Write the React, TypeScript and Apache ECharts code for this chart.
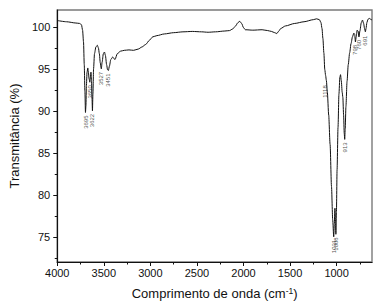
import React, { useEffect, useRef } from "react";
import * as echarts from "echarts";

const wavenumbers = [
  4000, 3900, 3800, 3760, 3740, 3728, 3718, 3710, 3703, 3697, 3692, 3687, 3680, 3672, 3665, 3658, 3650,
  3644, 3638, 3632, 3627, 3622, 3617, 3610, 3600, 3585, 3570, 3558, 3548, 3538, 3527, 3518, 3505, 3493,
  3483, 3470, 3460, 3451, 3440, 3425, 3405, 3380, 3355, 3320, 3280, 3230, 3180, 3130, 3090, 3050, 3010,
  2975, 2930, 2850, 2750, 2650, 2550, 2450, 2380, 2300, 2200, 2150, 2115, 2085, 2060, 2040, 2020, 2000,
  1980, 1900, 1800, 1740, 1700, 1665, 1642, 1620, 1600, 1550, 1450, 1350, 1250, 1215, 1185, 1168, 1157,
  1147, 1137, 1127, 1118, 1110, 1100, 1085, 1070, 1055, 1042, 1031, 1025, 1018, 1012, 1008, 1002, 995,
  985, 975, 965, 958, 950, 940, 933, 925, 918, 913, 908, 900, 888, 875, 860, 845, 830, 815, 806, 798,
  790, 780, 770, 760, 750, 735, 722, 710, 700, 691, 684, 675, 663, 648, 635, 620,
];

const transmittance = [
  100.75, 100.6, 100.45, 100.4, 100.25, 99.6, 98.2, 95.5, 92.3, 89.8, 90.6, 93.0, 94.6, 95.1, 94.5, 93.8, 93.4,
  94.0, 94.6, 93.6, 91.6, 90.0, 92.0, 95.0, 96.8, 97.6, 97.8, 97.5, 96.8, 95.7, 95.0, 95.8, 96.8, 97.0,
  96.6, 95.5, 94.9, 94.8, 95.3, 96.1, 96.4, 96.1, 96.8, 97.1, 97.2, 97.25, 97.2, 97.35, 97.6, 97.9, 98.4,
  98.8, 98.95, 99.15, 99.3, 99.4, 99.45, 99.4, 99.35, 99.4, 99.5, 99.55, 99.75, 100.1, 100.5, 100.65, 100.4, 99.9,
  99.65, 99.6, 99.65, 99.55, 99.45, 99.3, 99.2, 99.5, 99.8, 100.1, 100.4, 100.6, 100.85, 100.95, 100.85, 100.5, 99.8,
  98.6, 96.9, 94.9, 94.2, 93.6, 92.3, 89.5, 86.0, 81.0, 77.0, 75.0, 76.5, 78.4, 76.8, 75.3, 78.0, 83.0,
  88.0, 92.0, 94.0, 94.3, 93.6, 92.2, 91.6, 89.5, 87.3, 86.6, 87.8, 90.5, 93.5, 95.5, 96.9, 98.0, 98.8, 99.25, 99.1, 98.2,
  98.8, 99.6, 99.5, 98.8, 99.5, 100.5, 100.8, 100.4, 99.8, 99.4, 99.8, 100.5, 100.9, 101.0, 100.9, 100.8,
];

const peakLabels = ["3695", "3650", "3622", "3527", "3451", "1118", "1031", "1008", "913", "798", "760", "691"];
const peakWavenumbers = [3695, 3650, 3622, 3527, 3451, 1121, 1031, 1008, 913, 798, 760, 691];
const peakValues = [89.8, 93.4, 90.0, 95.0, 94.8, 93.4, 75.0, 75.3, 86.6, 98.2, 98.8, 99.3];

const xMajorTicks = [4000, 3500, 3000, 2500, 2000, 1500, 1000];
const xMinorTicks = [3750, 3250, 2750, 2250, 1750, 1250, 750];
const yMajorTicks = [75, 80, 85, 90, 95, 100];
const yMinorTicks = [72.5, 77.5, 82.5, 87.5, 92.5, 97.5];

const FONT = "Liberation Sans, Arial, sans-serif";

export default function App() {
  const ref = useRef<HTMLDivElement>(null);

  useEffect(() => {
    if (!ref.current) return;
    const chart = echarts.init(ref.current, undefined, { renderer: "svg" });
    const lineData = wavenumbers.map((w, i) => [w, transmittance[i]]);
    const labelData = peakWavenumbers.map((w, i) => ({ value: [w, peakValues[i]], name: peakLabels[i] }));

    chart.setOption({
      animation: false,
      backgroundColor: "#ffffff",
      grid: {
        left: 44,
        top: 10,
        right: 7,
        bottom: 44,
        show: true,
        borderColor: "#7a7a7a",
        borderWidth: 1.4,
      },
      xAxis: [
        {
          type: "value",
          inverse: true,
          min: 620,
          max: 4000,
          position: "bottom",
          name: "Comprimento de onda (cm{sup|-1})",
          nameLocation: "middle",
          nameGap: 24,
          nameTextStyle: {
            fontFamily: FONT,
            fontSize: 13,
            color: "#111",
            lineHeight: 15,
            rich: {
              sup: { fontFamily: FONT, fontSize: 8.5, color: "#111", verticalAlign: "top", lineHeight: 8 },
            },
          },
          axisLine: { show: true, lineStyle: { color: "#111", width: 1.2 } },
          axisTick: { show: true, customValues: xMajorTicks, length: 4, lineStyle: { color: "#111" } },
          axisLabel: {
            customValues: xMajorTicks,
            formatter: (v: number) => String(v),
            fontFamily: FONT,
            fontSize: 11,
            color: "#111",
            margin: 5,
          },
          splitLine: { show: false },
        },
        {
          type: "value",
          inverse: true,
          min: 620,
          max: 4000,
          position: "bottom",
          axisLine: { show: false },
          axisTick: { show: true, customValues: xMinorTicks, length: 2.5, lineStyle: { color: "#111" } },
          axisLabel: { show: false },
          splitLine: { show: false },
        },
      ],
      yAxis: [
        {
          type: "value",
          min: 72,
          max: 102,
          position: "left",
          name: "Transmitância (%)",
          nameLocation: "middle",
          nameGap: 31,
          nameTextStyle: { fontFamily: FONT, fontSize: 13, color: "#111" },
          axisLine: { show: true, lineStyle: { color: "#111", width: 1.2 } },
          axisTick: { show: true, customValues: yMajorTicks, length: 4, lineStyle: { color: "#111" } },
          axisLabel: {
            customValues: yMajorTicks,
            formatter: (v: number) => String(v),
            fontFamily: FONT,
            fontSize: 11,
            color: "#111",
            margin: 7,
          },
          splitLine: { show: false },
        },
        {
          type: "value",
          min: 72,
          max: 102,
          position: "left",
          axisLine: { show: false },
          axisTick: { show: true, customValues: yMinorTicks, length: 2.5, lineStyle: { color: "#111" } },
          axisLabel: { show: false },
          splitLine: { show: false },
        },
      ],
      series: [
        {
          type: "line",
          data: lineData,
          xAxisIndex: 0,
          yAxisIndex: 0,
          symbol: "none",
          smooth: 0.25,
          smoothMonotone: "x",
          lineStyle: { color: "#111", width: 1 },
          silent: true,
        },
        {
          type: "scatter",
          data: labelData,
          xAxisIndex: 0,
          yAxisIndex: 0,
          symbolSize: 0,
          silent: true,
          itemStyle: { color: "transparent" },
          label: {
            show: true,
            formatter: "{b}",
            rotate: 90,
            position: "bottom",
            distance: 3,
            align: "right",
            verticalAlign: "middle",
            fontFamily: FONT,
            fontSize: 6,
            color: "#222",
          },
        },
      ],
    });

    return () => chart.dispose();
  }, []);

  return (
    <div
      ref={ref}
      style={{ position: "fixed", left: 0, top: 0, width: 379, height: 306, background: "#fff" }}
    />
  );
}
